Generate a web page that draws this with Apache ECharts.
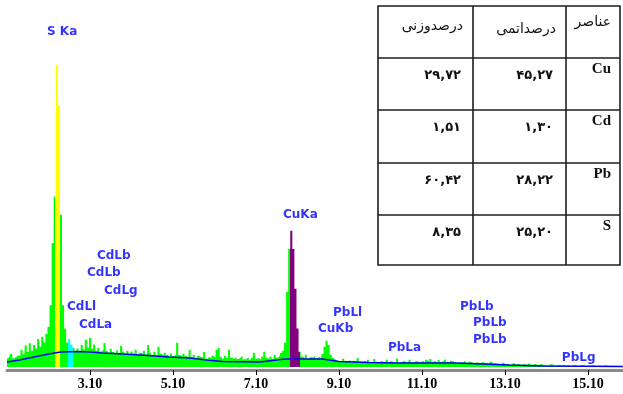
<!DOCTYPE html>
<html>
<head>
<meta charset="utf-8">
<script src="https://cdn.jsdelivr.net/npm/echarts@6/dist/echarts.min.js"></script>
<style>
  html, body { margin: 0; padding: 0; background: #fff; }
  #chart { width: 623px; height: 394px; }
</style>
</head>
<body>
<div id="chart"></div>
<script>
// EDS spectrum: counts per 0.05 keV channel starting at 1.10 keV
const energyStart = 1.10;
const energyStep = 0.05;
const counts = [
  82, 94, 131, 88, 103, 118, 109, 172, 127, 214, 151, 238, 162, 219, 183, 281, 204, 302,
  243, 331, 402, 618, 1241, 1704, 3022, 2618, 1523, 617, 382, 243, 281, 222, 191,
  163, 184, 152, 221, 174, 272, 193, 291, 183, 224, 162, 191, 154,
  172, 241, 163, 142, 183, 151, 132, 164, 141, 213, 152, 131, 163, 122, 154, 133, 172, 121, 143, 132,
  162, 124, 221, 143, 121, 152, 113, 203, 132, 112, 143, 121, 102, 134, 111, 123, 242, 121, 103, 132,
  111, 93, 172, 101, 122, 92, 113, 101,
  92, 151, 83, 102, 84, 112, 93, 171, 192, 103, 82, 113, 91, 173, 94, 83, 102, 81, 93, 112,
  74, 83, 101, 72, 93, 142, 83, 91, 72, 103, 152, 92, 81, 104, 82, 121, 93, 112, 141,
  162, 243, 752, 1183, 1362, 1181, 782, 384, 152, 104,
  91, 122, 83, 102, 93, 112, 84, 101, 92,
  131, 203, 262, 221, 123, 91, 72,
  52, 61, 43, 82, 51, 53, 72, 42, 63, 51, 91, 52, 44, 62, 51, 73, 42, 53, 81, 52,
  43, 62, 51, 42, 73, 52, 61, 43, 52, 82, 41, 53, 62, 43, 51, 72, 42, 53, 61, 52,
  51, 62, 43, 72, 52, 81, 53, 61, 42, 73, 51, 63, 82, 52, 41, 62, 53, 42, 33, 51,
  43, 61, 42, 31, 52, 43, 32, 51, 33, 42, 51, 32, 43, 31, 52, 33, 41, 32,
  32, 21, 42, 23, 31, 22, 33, 41, 22, 32, 21, 23, 32, 21, 41, 22, 21, 32, 22, 21,
  31, 22, 21, 13, 22, 31, 21, 12, 21, 22, 13, 21,
  12, 21, 13, 11, 22, 12, 11, 13, 21, 12, 11, 12, 13, 21, 12, 11, 12, 13, 11, 21,
  12, 11, 12, 11, 12, 11, 13, 11
];

// Fitted background (bremsstrahlung) curve
const backgroundEnergy = [1.10, 1.40, 1.75, 2.10, 2.40, 2.80, 3.10, 3.40, 3.90, 4.50, 5.00, 5.50, 5.90,
  6.30, 7.20, 7.40, 7.80, 8.70, 9.10, 9.80, 10.50, 11.90, 12.60, 13.20, 14.00, 15.94];
const backgroundCounts = [50, 70, 100, 130, 150, 155, 150, 140, 130, 115, 100, 90, 70,
  55, 50, 60, 80, 80, 55, 45, 40, 40, 30, 20, 10, 5];

// Highlighted regions of interest (keV)
const roiStart = [2.257, 2.563, 7.92];
const roiEnd = [2.377, 2.698, 8.16];

// Peak identification labels
const peakNames = ['S Ka', 'CdLb', 'CdLb', 'CdLg', 'CdLl', 'CdLa', 'CuKa', 'PbLl', 'CuKb',
  'PbLa', 'PbLb', 'PbLb', 'PbLb', 'PbLg'];
const peakLabelEnergy = [2.065, 3.268, 3.028, 3.437, 2.546, 2.835, 7.75, 8.955, 8.594,
  10.28, 12.016, 12.33, 12.33, 14.47];
const peakLabelCounts = [3350, 1110, 940, 760, 600, 420, 1520, 540, 380, 190, 600, 440, 270, 90];

// Axis tick labels (keV)
const xTicks = [3.10, 5.10, 7.10, 9.10, 11.10, 13.10, 15.10];

// Quantification table
const tableHeaders = ['عناصر', 'درصداتمی', 'درصدوزنی'];
const elements = ['Cu', 'Cd', 'Pb', 'S'];
const atomicPct = ['۴۵,۲۷', '۱,۳۰', '۲۸,۲۲', '۲۵,۲۰'];
const weightPct = ['۲۹,۷۲', '۱,۵۱', '۶۰,۴۲', '۸,۳۵'];

// ---- styles ----
const GREEN = '#00ff00';
const roiColors = ['#ffff00', '#00ffff', '#800080'];
const LABEL_BLUE = '#0000ff';

const spectrum = counts.map((c, i) => [+(energyStart + i * energyStep).toFixed(2), c]);
const background = backgroundEnergy.map((e, i) => [e, backgroundCounts[i]]);
const peakLabels = peakNames.map((n, i) => ({ name: n, value: [peakLabelEnergy[i], peakLabelCounts[i]] }));

// Piecewise colouring of the spectrum fill along the energy axis
const pieces = [{ lt: roiStart[0], color: GREEN }];
roiStart.forEach((s, i) => {
  pieces.push({ gte: s, lt: roiEnd[i], color: roiColors[i] });
  const next = i + 1 < roiStart.length ? roiStart[i + 1] : Infinity;
  pieces.push(next === Infinity ? { gte: roiEnd[i], color: GREEN } : { gte: roiEnd[i], lt: next, color: GREEN });
});

// ---- table drawn as graphic elements ----
const colX = [378, 473, 566, 620];          // left → right column borders
const rowY = [6, 58, 110, 163, 215, 265];   // top → bottom row borders
const LINE = '#1e1e1e';
const graphics = [];
graphics.push({
  type: 'rect', z: 100,
  shape: { x: colX[0], y: rowY[0], width: colX[3] - colX[0], height: rowY[5] - rowY[0] },
  style: { fill: '#fff', stroke: LINE, lineWidth: 1.6 }
});
for (let r = 1; r < rowY.length - 1; r++) {
  graphics.push({ type: 'line', z: 101, shape: { x1: colX[0], y1: rowY[r], x2: colX[3], y2: rowY[r] },
    style: { stroke: LINE, lineWidth: 1.6 } });
}
for (let c = 1; c < colX.length - 1; c++) {
  graphics.push({ type: 'line', z: 101, shape: { x1: colX[c], y1: rowY[0], x2: colX[c], y2: rowY[5] },
    style: { stroke: LINE, lineWidth: 1.6 } });
}
function cellText(text, x, y, font) {
  graphics.push({ type: 'text', z: 102,
    style: { text: text, x: x, y: y, font: font, fill: '#111',
      align: 'right', verticalAlign: 'middle', textAlign: 'right', textVerticalAlign: 'middle' } });
}
// header (right-to-left: elements, atomic %, weight %)
const headerFont = '14px "DejaVu Sans"';
cellText(tableHeaders[0], colX[3] - 9, 22, headerFont);
cellText(tableHeaders[1], colX[2] - 10, 29, headerFont);
cellText(tableHeaders[2], colX[1] - 10, 26, headerFont);
elements.forEach((el, i) => {
  const top = rowY[i + 1];
  cellText(el, colX[3] - 9, top + 11, 'bold 15px "Liberation Serif"');
  cellText(atomicPct[i], colX[2] - 13, top + 18, 'bold 13px "DejaVu Sans"');
  cellText(weightPct[i], colX[1] - 12, top + 18, 'bold 13px "DejaVu Sans"');
});

const chart = echarts.init(document.getElementById('chart'), null, { renderer: 'canvas' });
chart.setOption({
  animation: false,
  backgroundColor: '#fff',
  grid: { left: 7, right: 0, top: 10, bottom: 24 },
  xAxis: {
    type: 'value',
    min: 1.1,
    max: 15.943,
    splitLine: { show: false },
    axisLine: { show: true, onZero: false, lineStyle: { color: '#8a8a8a', width: 3 } },
    axisTick: { show: true, length: 5, customValues: xTicks, lineStyle: { color: '#000', width: 1 } },
    axisLabel: {
      customValues: xTicks,
      margin: 7,
      color: '#000',
      fontFamily: '"Liberation Serif"',
      fontWeight: 'bold',
      fontSize: 14,
      formatter: v => v.toFixed(2)
    }
  },
  yAxis: {
    type: 'value',
    min: -30,
    max: 3570,
    show: false,
    splitLine: { show: false }
  },
  visualMap: {
    type: 'piecewise',
    show: false,
    dimension: 0,
    seriesIndex: 0,
    pieces: pieces
  },
  series: [
    {
      type: 'line',
      data: spectrum,
      step: 'middle',
      showSymbol: false,
      lineStyle: { width: 0, opacity: 0 },
      areaStyle: { opacity: 1 },
      z: 2,
      silent: true
    },
    {
      type: 'line',
      data: background,
      showSymbol: false,
      lineStyle: { color: '#0000ee', width: 1.5 },
      z: 3,
      silent: true
    },
    {
      type: 'scatter',
      data: peakLabels,
      symbolSize: 0,
      z: 5,
      silent: true,
      label: {
        show: true,
        position: 'right',
        distance: 0,
        formatter: p => p.name,
        color: LABEL_BLUE,
        fontFamily: '"DejaVu Sans"',
        fontWeight: 'bold',
        fontSize: 12
      }
    }
  ],
  graphic: graphics
});
</script>
</body>
</html>
